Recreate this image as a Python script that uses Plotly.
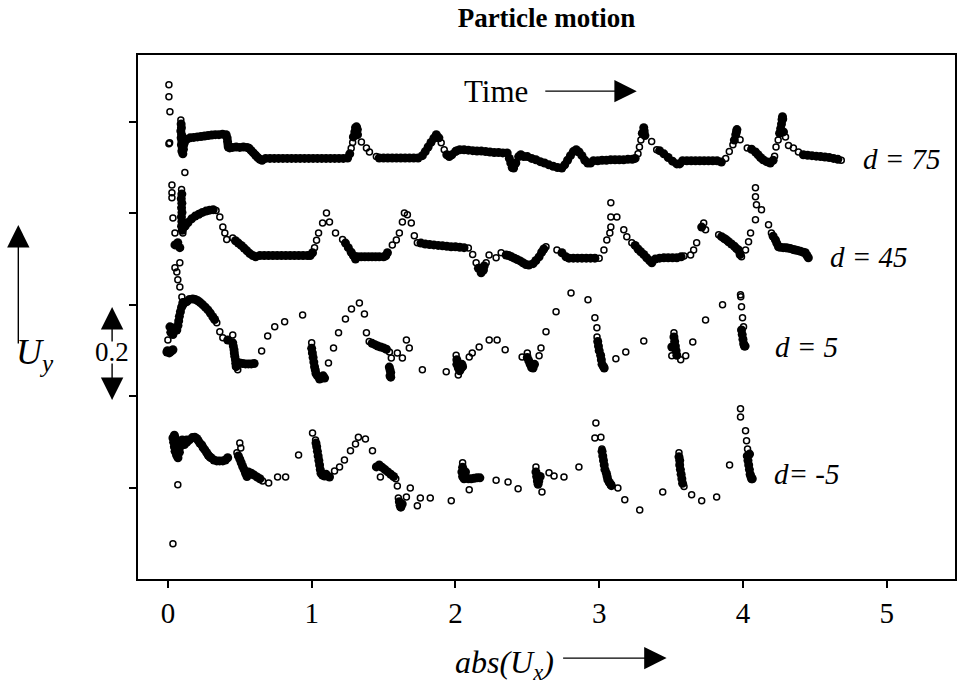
import math
import plotly.graph_objects as go

# ---- data (x = abs(Ux), y = Uy with arbitrary offset per series) ----
d75 = [
(0.007,0.881),(0.007,0.855),(0.014,0.822),(0.007,0.752),(0.012,0.754),
(0.090,0.804),(0.092,0.795),(0.094,0.787),(0.090,0.780),(0.095,0.772),(0.092,0.765),(0.097,0.758),(0.094,0.750),(0.100,0.743),(0.097,0.736),(0.104,0.730),(0.108,0.740),(0.110,0.750),(0.115,0.755),(0.118,0.760),
(0.130,0.762),(0.155,0.765),(0.180,0.766),(0.205,0.767),(0.230,0.768),(0.255,0.769),(0.280,0.770),(0.305,0.771),(0.330,0.772),(0.355,0.772),(0.380,0.773),(0.405,0.772),
(0.412,0.765),(0.415,0.757),(0.418,0.750),(0.420,0.745),(0.430,0.743),
(0.450,0.744),(0.475,0.745),(0.500,0.744),(0.525,0.745),(0.550,0.744),(0.565,0.742),
(0.580,0.737),(0.595,0.732),(0.610,0.727),(0.625,0.722),(0.640,0.718),(0.655,0.716),
(0.680,0.720),(0.710,0.720),(0.740,0.720),(0.770,0.720),(0.800,0.720),(0.830,0.720),(0.860,0.720),(0.890,0.720),(0.920,0.720),(0.950,0.720),(0.980,0.720),(1.010,0.720),(1.040,0.720),(1.070,0.720),(1.100,0.720),(1.130,0.720),(1.160,0.720),(1.190,0.720),(1.220,0.720),(1.250,0.721),
(1.265,0.730),(1.275,0.742),(1.285,0.755),(1.290,0.767),(1.300,0.778),(1.305,0.787),(1.312,0.789),(1.318,0.783),
(1.319,0.772),(1.346,0.756),(1.381,0.743),(1.402,0.734),(1.450,0.724),
(1.470,0.721),(1.500,0.721),(1.530,0.721),(1.560,0.721),(1.590,0.721),(1.620,0.721),(1.650,0.721),(1.680,0.721),(1.710,0.721),(1.740,0.721),
(1.770,0.726),(1.790,0.735),(1.810,0.745),(1.830,0.755),(1.850,0.764),(1.867,0.772),
(1.885,0.765),(1.901,0.754),(1.922,0.739),(1.940,0.728),(1.957,0.724),(1.975,0.728),(2.000,0.735),(2.010,0.737),
(2.030,0.739),(2.060,0.739),(2.090,0.738),(2.120,0.737),(2.150,0.736),(2.180,0.736),(2.210,0.735),(2.240,0.734),(2.270,0.733),(2.300,0.733),(2.330,0.732),(2.360,0.732),
(2.375,0.720),(2.385,0.710),(2.395,0.700),(2.405,0.699),
(2.420,0.710),(2.440,0.724),(2.455,0.728),(2.475,0.724),
(2.500,0.724),(2.530,0.720),(2.560,0.717),(2.590,0.713),(2.620,0.710),(2.650,0.706),(2.680,0.703),(2.710,0.700),(2.740,0.699),
(2.760,0.706),(2.780,0.716),(2.800,0.726),(2.820,0.735),(2.840,0.739),(2.860,0.734),(2.880,0.726),(2.900,0.716),(2.920,0.710),(2.940,0.710),
(2.960,0.715),(2.990,0.715),(3.020,0.716),(3.050,0.716),(3.080,0.717),(3.110,0.717),(3.140,0.717),(3.170,0.717),(3.200,0.718),(3.230,0.718),(3.250,0.720),
(3.270,0.730),(3.280,0.745),(3.290,0.760),(3.300,0.775),(3.310,0.787),(3.313,0.780),(3.318,0.770),
(3.365,0.757),(3.400,0.739),
(3.420,0.737),(3.450,0.730),(3.480,0.722),(3.510,0.714),(3.540,0.708),(3.560,0.708),
(3.580,0.715),(3.610,0.715),(3.640,0.715),(3.670,0.715),(3.700,0.715),(3.730,0.715),(3.760,0.715),(3.790,0.715),(3.820,0.715),
(3.850,0.712),(3.880,0.720),(3.905,0.735),(3.930,0.750),(3.940,0.760),(3.950,0.772),(3.955,0.778),(3.958,0.783),
(3.980,0.761),(4.030,0.743),
(4.060,0.740),(4.087,0.734),(4.105,0.728),(4.122,0.722),(4.140,0.717),(4.164,0.713),(4.190,0.710),(4.210,0.716),
(4.220,0.725),(4.230,0.745),(4.245,0.760),(4.255,0.775),(4.262,0.785),(4.268,0.795),(4.272,0.805),(4.275,0.811),(4.277,0.806),
(4.282,0.778),(4.296,0.767),(4.317,0.748),(4.351,0.743),(4.386,0.734),(4.420,0.728),
(4.450,0.727),(4.480,0.726),(4.510,0.725),(4.540,0.724),(4.570,0.723),(4.600,0.722),(4.630,0.720),(4.660,0.718),(4.684,0.716)]

d45 = [
(0.118,0.689),(0.028,0.662),(0.028,0.645),(0.028,0.634),(0.035,0.590),(0.049,0.557),
(0.095,0.652),(0.097,0.642),(0.093,0.632),(0.097,0.622),(0.095,0.612),(0.098,0.602),(0.094,0.592),(0.097,0.582),(0.095,0.572),(0.100,0.563),(0.104,0.557),
(0.120,0.572),(0.140,0.580),(0.165,0.588),(0.190,0.594),(0.215,0.598),(0.240,0.602),(0.265,0.605),(0.290,0.607),(0.315,0.608),(0.335,0.606),
(0.361,0.592),(0.382,0.570),(0.396,0.557),(0.409,0.543),(0.451,0.546),
(0.470,0.540),(0.490,0.535),(0.510,0.530),(0.530,0.524),(0.550,0.518),(0.570,0.512),(0.590,0.508),(0.610,0.505),
(0.640,0.508),(0.670,0.508),(0.700,0.508),(0.730,0.508),(0.760,0.508),(0.790,0.508),(0.820,0.508),(0.850,0.508),(0.880,0.508),(0.910,0.508),(0.940,0.508),(0.970,0.508),(0.990,0.508),
(1.006,0.514),(1.020,0.525),(1.034,0.541),(1.048,0.557),(1.076,0.579),(1.103,0.601),(1.124,0.581),(1.166,0.557),
(1.215,0.543),(1.235,0.535),(1.255,0.525),(1.275,0.515),(1.290,0.508),(1.305,0.500),
(1.320,0.505),(1.345,0.505),(1.370,0.505),(1.395,0.505),(1.420,0.505),(1.445,0.505),(1.470,0.505),(1.500,0.505),(1.515,0.507),
(1.527,0.514),(1.561,0.531),(1.589,0.542),(1.610,0.557),(1.631,0.581),(1.645,0.601),(1.666,0.597),(1.693,0.579),(1.714,0.551),(1.735,0.536),
(1.760,0.535),(1.790,0.533),(1.820,0.532),(1.850,0.531),(1.880,0.530),(1.910,0.529),(1.940,0.528),(1.970,0.527),(2.000,0.527),(2.030,0.526),(2.060,0.525),(2.090,0.524),
(2.120,0.510),(2.144,0.492),(2.160,0.480),(2.179,0.470),(2.195,0.476),(2.200,0.485),(2.214,0.492),(2.234,0.509),
(2.283,0.503),(2.318,0.514),(2.353,0.509),
(2.370,0.508),(2.390,0.505),(2.410,0.502),(2.430,0.499),(2.450,0.496),(2.470,0.492),(2.490,0.488),(2.510,0.487),
(2.540,0.490),(2.560,0.497),(2.582,0.505),(2.600,0.515),(2.615,0.522),(2.630,0.527),
(2.706,0.520),(2.741,0.514),(2.769,0.505),
(2.790,0.502),(2.820,0.502),(2.850,0.502),(2.880,0.502),(2.910,0.502),(2.940,0.502),(2.970,0.502),(3.000,0.502),
(3.033,0.520),(3.053,0.542),(3.074,0.557),(3.081,0.623),(3.081,0.592),(3.123,0.592),(3.081,0.570),
(3.171,0.564),(3.192,0.549),(3.227,0.536),(3.250,0.530),(3.270,0.522),(3.289,0.516),(3.310,0.510),(3.330,0.503),(3.350,0.497),(3.366,0.492),
(3.390,0.500),(3.420,0.502),(3.450,0.503),(3.480,0.503),(3.510,0.503),(3.540,0.503),(3.570,0.505),(3.590,0.507),
(3.636,0.509),(3.657,0.520),(3.678,0.536),(3.713,0.570),(3.727,0.579),(3.740,0.564),
(3.831,0.553),(3.851,0.549),(3.870,0.545),(3.885,0.542),(3.900,0.538),(3.920,0.533),(3.940,0.528),(3.955,0.523),(3.969,0.520),(3.980,0.510),(3.990,0.505),
(4.018,0.520),(4.039,0.538),(4.053,0.557),(4.087,0.586),(4.094,0.619),(4.087,0.636),(4.087,0.656),(4.129,0.608),(4.178,0.575),
(4.198,0.557),(4.210,0.550),(4.226,0.542),(4.235,0.535),(4.247,0.527),(4.260,0.526),(4.280,0.525),(4.296,0.525),(4.310,0.524),(4.330,0.523),(4.350,0.521),(4.365,0.520),(4.380,0.519),(4.400,0.517),(4.420,0.515),(4.434,0.514),(4.445,0.508),(4.455,0.503)]

d5 = [
(0.049,0.531),(0.069,0.536),(0.083,0.525),(0.049,0.481),(0.062,0.472),(0.083,0.492),(0.069,0.455),(0.083,0.439),(0.097,0.417),(0.104,0.400),
(-0.007,0.297),(-0.003,0.300),(0.010,0.295),(0.020,0.298),(0.028,0.300),(0.035,0.302),(0.000,0.323),
(0.014,0.352),(0.028,0.350),(0.040,0.347),(0.055,0.345),(0.062,0.345),(0.020,0.340),(0.035,0.335),
(0.070,0.355),(0.075,0.365),(0.080,0.375),(0.087,0.385),(0.095,0.395),(0.104,0.405),
(0.115,0.405),(0.132,0.407),(0.150,0.412),(0.173,0.413),(0.190,0.412),(0.208,0.409),(0.225,0.405),(0.243,0.400),(0.260,0.395),(0.278,0.389),(0.295,0.382),(0.312,0.374),(0.325,0.368),(0.340,0.361),(0.361,0.341),(0.382,0.328),(0.416,0.323),(0.451,0.334),
(0.451,0.317),(0.455,0.310),(0.460,0.302),(0.462,0.295),(0.465,0.288),(0.470,0.280),(0.472,0.272),(0.475,0.265),(0.478,0.272),(0.486,0.258),
(0.500,0.273),(0.520,0.272),(0.540,0.271),(0.560,0.271),(0.580,0.271),(0.600,0.272),
(0.652,0.299),(0.694,0.332),(0.743,0.352),(0.812,0.363),(0.937,0.378),
(1.000,0.317),(1.000,0.305),(1.005,0.295),(1.010,0.285),(1.015,0.275),(1.020,0.265),(1.025,0.258),(1.030,0.250),(1.040,0.245),(1.055,0.238),(1.070,0.240),(1.080,0.245),(1.090,0.240),
(1.117,0.273),(1.152,0.306),(1.187,0.339),(1.235,0.369),(1.277,0.391),(1.332,0.404),(1.367,0.380),(1.381,0.339),
(1.400,0.320),(1.420,0.316),(1.440,0.313),(1.460,0.310),(1.480,0.308),(1.500,0.306),(1.520,0.303),
(1.541,0.297),(1.554,0.284),(1.540,0.264),(1.545,0.258),(1.550,0.252),(1.545,0.245),(1.550,0.242),
(1.596,0.295),(1.631,0.284),(1.659,0.323),(1.679,0.306),(1.770,0.258),(1.936,0.254),
(2.005,0.290),(2.010,0.280),(2.010,0.270),(2.020,0.262),(2.030,0.256),(2.040,0.262),(2.045,0.270),(2.050,0.265),(2.020,0.247),
(2.096,0.286),(2.117,0.295),(2.165,0.308),(2.235,0.323),(2.290,0.323),(2.346,0.302),
(2.464,0.286),(2.500,0.295),(2.500,0.285),(2.510,0.278),(2.520,0.270),(2.530,0.263),(2.540,0.262),(2.550,0.270),(2.582,0.289),(2.595,0.306),
(2.630,0.341),(2.700,0.385),(2.804,0.426),(2.922,0.411),(2.970,0.372),(2.984,0.350),
(2.985,0.330),(2.990,0.320),(2.995,0.310),(3.000,0.300),(3.010,0.290),(3.015,0.280),(3.020,0.270),(3.030,0.265),(3.035,0.262),
(3.116,0.282),(3.185,0.297),(3.310,0.321),
(3.505,0.308),(3.505,0.289),(3.520,0.339),(3.520,0.330),(3.525,0.320),(3.530,0.310),(3.535,0.300),(3.540,0.290),(3.567,0.280),(3.602,0.289),(3.651,0.319),(3.740,0.367),(3.858,0.400),
(3.983,0.422),(3.985,0.418),(3.990,0.396),(3.997,0.372),(4.004,0.352),
(3.990,0.345),(3.995,0.335),(4.000,0.325),(4.005,0.315),(4.010,0.310),(4.015,0.310)]

dm5 = [
(0.035,-0.122),(0.069,0.007),
(0.035,0.109),(0.040,0.100),(0.045,0.090),(0.050,0.080),(0.060,0.072),(0.070,0.066),(0.080,0.078),(0.085,0.090),(0.095,0.100),(0.100,0.105),(0.110,0.100),(0.115,0.095),(0.120,0.100),(0.130,0.105),(0.070,0.095),(0.060,0.100),(0.050,0.110),(0.045,0.115),
(0.132,0.100),(0.150,0.105),(0.170,0.110),(0.187,0.111),(0.200,0.108),(0.210,0.104),(0.222,0.098),(0.235,0.094),(0.245,0.088),(0.257,0.083),(0.270,0.077),(0.280,0.072),(0.291,0.068),(0.300,0.066),(0.320,0.061),(0.340,0.059),(0.360,0.059),(0.382,0.059),(0.400,0.061),(0.416,0.066),
(0.500,0.098),(0.507,0.087),
(0.480,0.077),(0.490,0.070),(0.500,0.063),(0.510,0.055),(0.520,0.047),(0.530,0.040),(0.540,0.032),(0.550,0.025),
(0.560,0.035),(0.580,0.032),(0.600,0.028),(0.620,0.024),(0.640,0.020),
(0.659,0.015),(0.701,0.011),(0.763,0.024),(0.819,0.024),(0.909,0.072),
(1.006,0.120),(1.027,0.105),
(1.030,0.098),(1.035,0.090),(1.040,0.080),(1.045,0.070),(1.050,0.060),(1.055,0.050),(1.060,0.040),(1.065,0.032),(1.075,0.028),(1.090,0.026),(1.100,0.030),
(1.124,0.024),(1.159,0.037),(1.194,0.046),(1.228,0.061),(1.270,0.081),(1.305,0.096),(1.325,0.111),(1.374,0.107),(1.423,0.081),(1.450,0.046),(1.478,0.024),
(1.470,0.050),(1.490,0.045),(1.510,0.040),(1.530,0.035),(1.550,0.030),(1.570,0.025),(1.585,0.020),
(1.596,0.004),(1.603,-0.022),(1.610,-0.030),(1.615,-0.038),(1.620,-0.042),(1.630,-0.035),
(1.659,-0.020),(1.686,0.000),(1.735,-0.039),(1.756,-0.022),(1.825,-0.022),(1.971,-0.028),
(2.050,0.055),(2.050,0.045),(2.045,0.035),(2.050,0.025),(2.060,0.020),(2.060,0.030),(2.070,0.035),
(2.090,0.020),(2.110,0.020),(2.130,0.021),(2.150,0.022),(2.170,0.022),(2.096,-0.004),
(2.283,0.017),(2.366,0.013),(2.436,-0.002),
(2.560,0.046),(2.560,0.035),(2.565,0.025),(2.570,0.015),(2.575,0.008),(2.580,0.015),(2.590,0.025),
(2.602,-0.009),(2.651,0.033),(2.686,0.026),(2.755,0.024),(2.859,0.046),
(2.977,0.142),(2.970,0.109),(3.012,0.111),(3.019,0.085),
(3.020,0.080),(3.025,0.070),(3.030,0.060),(3.035,0.050),(3.040,0.040),(3.050,0.032),(3.055,0.025),(3.060,0.018),(3.070,0.012),(3.080,0.008),(3.085,0.005),
(3.130,0.000),(3.178,-0.026),(3.282,-0.048),(3.442,-0.009),
(3.555,0.077),(3.555,0.068),(3.560,0.060),(3.560,0.050),(3.565,0.040),(3.570,0.030),(3.575,0.020),(3.580,0.010),(3.590,0.003),
(3.643,-0.015),(3.713,-0.028),(3.817,-0.020),(3.907,0.050),
(3.983,0.173),(3.983,0.155),(4.018,0.125),(4.025,0.103),(4.032,0.085),(4.046,0.074),
(4.030,0.070),(4.035,0.060),(4.040,0.050),(4.045,0.040),(4.050,0.030),(4.055,0.025),(4.060,0.020),(4.065,0.020)]

series_names = ["d = 75", "d = 45", "d = 5", "d= -5"]
series_data = [d75, d45, d5, dm5]
label_pos = [(5.108, 0.719), (4.88, 0.505), (4.441, 0.308), (4.441, 0.031)]
x_ticks = [0, 1, 2, 3, 4, 5]
y_ticks = [0, 0.2, 0.4, 0.6, 0.8]

FONT = "Liberation Serif"
X_RANGE = [-0.208, 5.475]
Y_RANGE = [-0.199, 0.946]
PLOT_W, PLOT_H = 819, 524
SX = PLOT_W / (X_RANGE[1] - X_RANGE[0])
SY = PLOT_H / (Y_RANGE[1] - Y_RANGE[0])


def crowded(pts, radius=6.0):
    """True for samples whose open circles pile up into a solid band."""
    flags = []
    for i, (xi, yi) in enumerate(pts):
        n = 0
        for j, (xj, yj) in enumerate(pts):
            if i != j and math.hypot((xi - xj) * SX, (yi - yj) * SY) < radius:
                n += 1
        flags.append(n >= 2)
    return flags


fig = go.Figure()
for name, pts in zip(series_names, series_data):
    flags = crowded(pts)
    dense_x = [p[0] for p, f in zip(pts, flags) if f]
    dense_y = [p[1] for p, f in zip(pts, flags) if f]
    open_x = [p[0] for p, f in zip(pts, flags) if not f]
    open_y = [p[1] for p, f in zip(pts, flags) if not f]
    fig.add_trace(go.Scatter(
        x=dense_x, y=dense_y, mode="markers", name=name, showlegend=False,
        marker=dict(symbol="circle", size=9, color="black",
                    line=dict(width=0)),
    ))
    fig.add_trace(go.Scatter(
        x=open_x, y=open_y, mode="markers", name=name, showlegend=False,
        marker=dict(symbol="circle-open", size=6, color="black",
                    line=dict(width=1.5, color="black")),
    ))

ARW = dict(showarrow=True, arrowhead=2, arrowsize=3.2, arrowwidth=1.4,
           arrowcolor="black", text="", xref="paper", yref="paper")
TXT = dict(showarrow=False, xref="paper", yref="paper",
           xanchor="center", yanchor="middle")

ann = []
for name, (lx, ly) in zip(series_names, label_pos):
    ann.append(dict(x=lx, y=ly, xref="x", yref="y", text="<i>%s</i>" % name,
                    showarrow=False, xanchor="center", yanchor="middle",
                    font=dict(family=FONT, size=29, color="black")))

# "Time ->"
ann.append(dict(x=0.438, y=0.931, text="Time",
                font=dict(family=FONT, size=31, color="black"), **TXT))
ann.append(dict(x=0.6105, y=0.931, ax=-93, ay=0, **ARW))
# x-axis title
ann.append(dict(x=0.448, y=-0.163, text="<i>abs(U<sub>x</sub>)</i>",
                font=dict(family=FONT, size=32, color="black"), **TXT))
ann.append(dict(x=0.647, y=-0.151, ax=-105, ay=0, **ARW))
# y-axis label U_y with up arrow
ann.append(dict(x=-0.1258, y=0.428, text="<i>U<sub>y</sub></i>",
                font=dict(family=FONT, size=36, color="black"), **TXT))
ann.append(dict(x=-0.1465, y=0.6756, ax=0, ay=120, **ARW))
# 0.2 scale marker
ann.append(dict(x=-0.0317, y=0.433, text="0.2",
                font=dict(family=FONT, size=27, color="black"), **TXT))
ann.append(dict(x=-0.0317, y=0.519, ax=0, ay=36, **ARW))
ann.append(dict(x=-0.0317, y=0.3416, ax=0, ay=-38, **ARW))

fig.update_layout(
    width=959, height=687,
    margin=dict(l=138, r=2, t=55, b=108),
    paper_bgcolor="white", plot_bgcolor="white",
    title=dict(text="<b>Particle motion</b>", x=0.5, xref="paper", y=0.974,
               yref="container", xanchor="center", yanchor="middle",
               font=dict(family=FONT, size=27, color="black")),
    annotations=ann,
    xaxis=dict(range=X_RANGE, tickvals=x_ticks, ticks="outside",
               ticklen=7, tickwidth=1.5, tickcolor="black", showline=True,
               linewidth=2, linecolor="black", mirror=True, showgrid=False,
               zeroline=False, ticklabelstandoff=0,
               tickfont=dict(family=FONT, size=29, color="black")),
    yaxis=dict(range=Y_RANGE, tickvals=y_ticks, ticks="outside",
               ticklen=7, tickwidth=1.5, tickcolor="black", showline=True,
               linewidth=2, linecolor="black", mirror=True, showgrid=False,
               zeroline=False, showticklabels=False),
)

post = ("document.body.style.margin='0';document.body.style.padding='0';"
        "document.body.style.overflow='hidden';"
        "var gd=document.getElementById('{plot_id}');"
        "Plotly.relayout(gd,{width:959,height:687});")
fig.write_html("out.html", post_script=post,
               config={"responsive": False, "displayModeBar": False})
